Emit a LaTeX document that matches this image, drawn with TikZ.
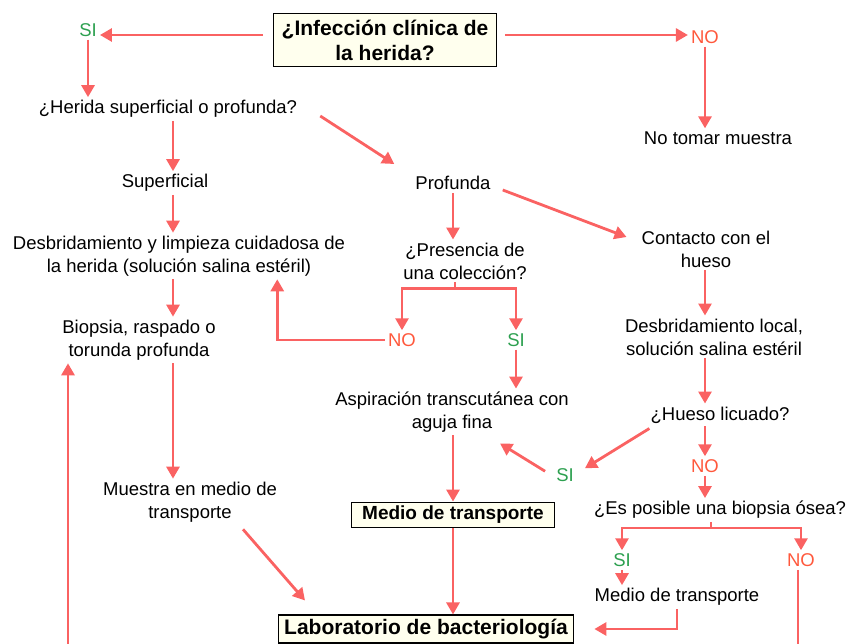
\documentclass[tikz,border=0pt]{standalone}
\usepackage{fontspec}
\setmainfont{Liberation Sans}
\usetikzlibrary{arrows.meta}
\definecolor{flecha}{RGB}{250,98,98}
\definecolor{verde}{RGB}{45,160,80}
\definecolor{rojo}{RGB}{255,88,60}
\definecolor{crema}{RGB}{255,255,238}
\tikzset{
  linea/.style={draw=flecha,line width=2.8pt},
  flujo/.style={linea,-{Triangle[length=12pt,width=13pt]}},
  txt/.style={align=center,inner sep=3pt,font=\fontsize{18.5}{23}\selectfont},
  caja/.style={draw,fill=crema,line width=1.2pt,align=center,inner xsep=8pt,inner ysep=6pt,font=\fontsize{21}{25}\selectfont\bfseries},
  si/.style={txt,text=verde},
  no/.style={txt,text=rojo}
}
\begin{document}
\begin{tikzpicture}[x=1pt,y=-1pt]
    \useasboundingbox (0,0) rectangle (849,644);
    \node[caja] (pregunta) at (385,40) {¿Infección clínica de\\la herida?};
    \node[si] (si1) at (88,30) {SI};
    \node[no] (no1) at (705,37) {NO};
    \node[txt] (herida) at (168,109) {¿Herida superficial o profunda?};
    \node[txt] (notomar) at (718,138) {No tomar muestra};
    \node[txt] (sup) at (165,183) {Superficial};
    \node[txt] (prof) at (453,183) {Profunda};
    \node[txt] (desb) at (179,256) {Desbridamiento y limpieza cuidadosa de\\la herida (solución salina estéril)};
    \node[txt] (biopsia) at (139,340) {Biopsia, raspado o\\torunda profunda};
    \node[txt] (muestra) at (190,502) {Muestra en medio de\\transporte};
    \node[caja,inner xsep=6pt,inner ysep=4pt] (lab) at (426,629) {Laboratorio de bacteriología};
    \node[txt] (presencia) at (465,261) {¿Presencia de\\una colección?};
    \node[no] (no2) at (402,340) {NO};
    \node[si] (si2) at (516,340) {SI};
    \node[txt] (aspira) at (452,412) {Aspiración transcutánea con\\aguja fina};
    \node[caja,inner xsep=11pt,inner ysep=4pt,font=\fontsize{19}{23}\selectfont\bfseries] (medio1) at (453,515) {Medio de transporte};
    \node[txt] (contacto) at (706,249) {Contacto con el\\hueso};
    \node[txt] (desbloc) at (714,337) {Desbridamiento local,\\solución salina estéril};
    \node[txt] (licuado) at (720,415) {¿Hueso licuado?};
    \node[si] (si3) at (565,475) {SI};
    \node[no] (no3) at (705,466) {NO};
    \node[txt] (esposible) at (720,510) {¿Es posible una biopsia ósea?};
    \node[si] (si4) at (622,560) {SI};
    \node[no] (no4) at (801,560) {NO};
    \node[txt] (medio2) at (677,597) {Medio de transporte};
    \coordinate (colL) at (173,0);
    \coordinate (colR) at (705,0);
    \coordinate (finL) at (68,644);
    \coordinate (finR) at (798,644);

    \draw[flujo,shorten <=10pt] ([yshift=5pt]pregunta.west) -- ([yshift=5pt]pregunta.west -| si1.east);
    \draw[flujo,shorten <=8pt] ([yshift=5pt]pregunta.east) -- ([yshift=5pt]pregunta.east -| no1.west);
    \draw[flujo] (si1.south) -- (si1.south |- herida.north);
    \draw[flujo] (no1.south) -- (no1.south |- notomar.north);
    \draw[flujo] ([shift={(20,7)}]herida.east) -- ([shift={(-18,-9)}]prof.north west);
    \draw[flujo] (herida.south -| colL) -- (sup.north -| colL);
    \draw[flujo] (sup.south -| colL) -- (desb.north -| colL);
    \draw[flujo] (desb.south -| colL) -- (biopsia.north -| colL);
    \draw[flujo] (biopsia.south -| colL) -- (muestra.north -| colL);
    \draw[flujo] (finL) -- (finL |- biopsia.south);
    \draw[flujo] ([shift={(53,4)}]muestra.south) -- ([shift={(-121,-14)}]lab.north);
    \draw[flujo] (prof.south) -- (prof.south |- presencia.north);
    \draw[linea] ([xshift=-10pt]presencia.south) -- ++(0,6) coordinate (bifA);
    \draw[flujo] (bifA) -| (no2.north);
    \draw[flujo] (bifA) -| (si2.north);
    \draw[flujo] (no2.west) -| ([xshift=-71pt]desb.south east);
    \draw[flujo] (si2.south) -- (si2.south |- aspira.north);
    \draw[flujo] (aspira.south -| medio1.north) -- (medio1.north);
    \draw[flujo] (medio1.south) -- (medio1.south |- lab.north);
    \draw[flujo] ([shift={(9,7)}]prof.east) -- ([shift={(-12,-12)}]contacto.west);
    \draw[flujo] (contacto.south -| colR) -- (desbloc.north -| colR);
    \draw[flujo] (desbloc.south -| colR) -- (licuado.north -| colR);
    \draw[flujo] ([shift={(2,2)}]licuado.south west) -- ([shift={(8,3)}]si3.north east);
    \draw[flujo] ([shift={(-8,6)}]si3.north west) -- ([shift={(48,8)}]aspira.south);
    \draw[flujo] (licuado.south -| colR) -- (no3.north -| colR);
    \draw[flujo] (no3.south -| colR) -- (esposible.north -| colR);
    \draw[linea] ([xshift=-9pt]esposible.south) -- ++(0,6) coordinate (bifB);
    \draw[flujo] (bifB) -| (si4.north);
    \draw[flujo] (bifB) -| (no4.north);
    \draw[flujo] (si4.south) -- (si4.south |- medio2.north);
    \draw[flujo,shorten >=20pt] (medio2.south) |- (lab.east);
    \draw[linea] (no4.south -| finR) -- (finR);
\end{tikzpicture}
\end{document}
